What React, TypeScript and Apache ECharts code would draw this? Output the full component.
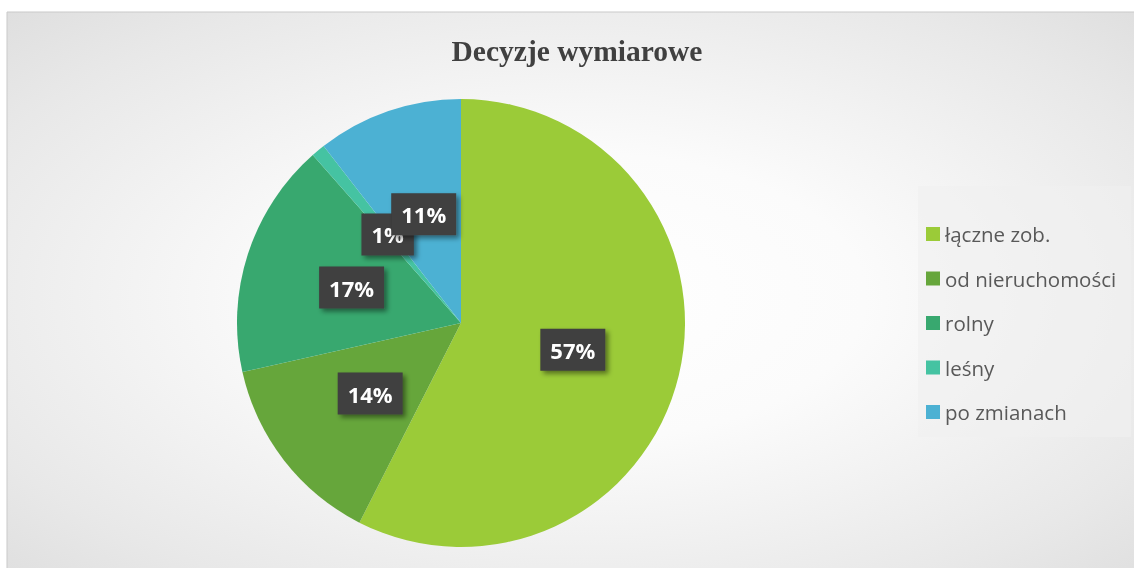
import React, { useEffect, useRef } from "react";
import * as echarts from "echarts";

const categories = ["łączne zob.", "od nieruchomości", "rolny", "leśny", "po zmianach"];
const shares = [57.49, 14.0, 17.0, 1.0, 10.51];
const colors = ["#9bcb38", "#66a63b", "#38a86f", "#45c3a2", "#4cb1d3"];
const titleText = "Decyzje wymiarowe";

export default function App() {
  const ref = useRef<HTMLDivElement>(null);
  useEffect(() => {
    if (!ref.current) return;
    const chart = echarts.init(ref.current, null, { renderer: "svg" });
    chart.setOption({
      animation: false,
      title: {
        text: titleText,
        left: 572,
        textAlign: "center",
        top: 31,
        textStyle: {
          fontFamily: "Liberation Serif",
          fontWeight: "bold",
          fontSize: 29.5,
          color: "#404040",
        },
      },
      graphic: [
        {
          type: "rect",
          z: -10,
          silent: true,
          shape: { x: 7, y: 12, width: 1140, height: 570 },
          style: {
            fill: new echarts.graphic.RadialGradient(0.5, 0.5, 1.15, [
              { offset: 0, color: "#ffffff" },
              { offset: 0.22, color: "#fbfbfb" },
              { offset: 0.5, color: "#e8e8e8" },
              { offset: 0.75, color: "#d4d4d4" },
              { offset: 1, color: "#c2c2c2" },
            ]),
            stroke: "#c9c9c9",
            lineWidth: 1,
          },
        },
        {
          type: "rect",
          z: -5,
          silent: true,
          shape: { x: 918, y: 186, width: 213, height: 251 },
          style: { fill: "rgba(240,240,240,0.6)" },
        },
      ],
      legend: {
        orient: "vertical",
        left: 926,
        top: 223,
        padding: 0,
        itemWidth: 14,
        itemHeight: 14,
        itemGap: 22.5,
        icon: "rect",
        data: categories,
        textStyle: {
          fontFamily: "Open Sans",
          fontSize: 20.5,
          lineHeight: 22,
          color: "#595959",
        },
      },
      series: [
        {
          type: "pie",
          center: [461, 323],
          radius: 224,
          startAngle: 90,
          clockwise: true,
          percentPrecision: 0,
          avoidLabelOverlap: false,
          labelLayout: { hideOverlap: false },
          data: categories.map((name, i) => ({
            name,
            value: shares[i],
            itemStyle: { color: colors[i] },
          })),
          itemStyle: { borderWidth: 0 },
          label: {
            show: true,
            position: "inside",
            formatter: "{d}%",
            fontFamily: "Open Sans",
            fontWeight: "bold",
            fontSize: 22,
            lineHeight: 22,
            color: "#ffffff",
            backgroundColor: "#3f3f3f",
            padding: [11, 10, 9, 10],
            shadowColor: "rgba(0,0,0,0.45)",
            shadowBlur: 5,
            shadowOffsetX: 3,
            shadowOffsetY: 3,
          },
          labelLine: { show: false },
          emphasis: { disabled: true },
        },
      ],
    });
    return () => chart.dispose();
  }, []);
  return (
    <div
      ref={ref}
      style={{ position: "fixed", left: 0, top: 0, width: 1134, height: 568 }}
    />
  );
}
